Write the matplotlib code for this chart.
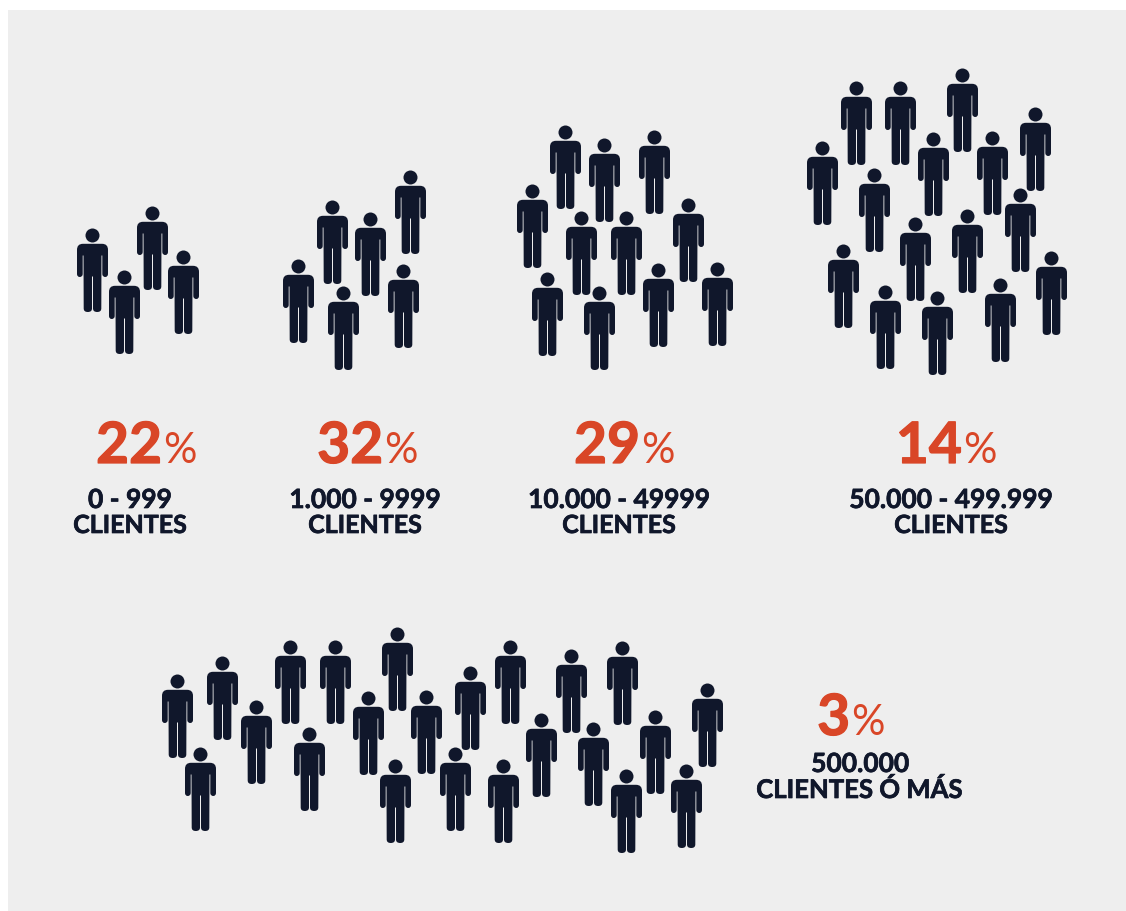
import matplotlib
matplotlib.use("Agg")
import matplotlib.pyplot as plt
import matplotlib.patheffects as pe
from matplotlib.path import Path
from matplotlib.patches import Rectangle

W, H = 1126, 911
BG = "#EEEEEE"; INK = "#10172B"; RED = "#D94627"
FONT = "Lato"

# head-centre positions of each person, per group
g1_x = [92, 152, 124, 183]
g1_y = [235, 213, 277, 257]
g2_x = [298, 332, 370, 410, 343, 403]
g2_y = [266, 207, 219, 177, 293, 271]
g3_x = [565, 604, 654, 532, 581, 626, 688, 547, 599, 658, 717]
g3_y = [132, 145, 137, 191, 218, 218, 205, 279, 293, 270, 269]
g4_x = [962, 856, 900, 1035, 822, 933, 992, 874, 1020, 967, 915, 843, 1051, 885, 1000, 937]
g4_y = [75, 88, 88, 114, 148, 139, 138, 175, 195, 216, 224, 251, 258, 292, 285, 298]
g5_x = [397, 290, 335, 222, 177, 510, 622, 571, 470, 368, 426, 256, 707, 541, 655, 593, 309, 200, 455, 395, 503, 686, 626]
g5_y = [634, 647, 647, 663, 681, 647, 648, 656, 673, 698, 697, 707, 690, 720, 717, 729, 734, 754, 754, 766, 766, 771, 776]
groups = [(g1_x, g1_y), (g2_x, g2_y), (g3_x, g3_y), (g4_x, g4_y), (g5_x, g5_y)]

percents = ["22", "32", "29", "14", "3"]
pct_split_x = [162, 383, 640, 962, 850]
pct_base_y = [463, 463, 463, 463, 735]
label_lines = [("0 - 999", "CLIENTES"), ("1.000 - 9999", "CLIENTES"), ("10.000 - 49999", "CLIENTES"),
               ("50.000 - 499.999", "CLIENTES"), ("500.000", "CLIENTES Ó MÁS")]
label_x = [130, 365, 619, 951, 860]
label_y = [[508, 533], [508, 533], [508, 533], [508, 533], [772, 798]]


def person_marker():
    M, L, Q = Path.MOVETO, Path.LINETO, Path.CURVE3
    right = [(L, 9.5, 8.3), (Q, 15.5, 8.3), (Q, 15.5, 14.3), (L, 15.5, 38.5), (Q, 15.5, 41.5), (Q, 12.75, 41.5),
             (Q, 9.8, 41.5), (Q, 9.8, 38.5), (L, 9.8, 20), (L, 9.0, 20), (L, 8.8, 73), (Q, 8.8, 76.5), (Q, 4.7, 76.5),
             (Q, 0.5, 76.5), (Q, 0.5, 73), (L, 0.5, 41)]
    verts = [(0, 8.3)]; codes = [M]
    for c, x, y in right:
        verts.append((x, y)); codes.append(c)
    left_pts = [(-x, y) for _, x, y in right][::-1]
    left_codes = [c for c, _, _ in right][::-1]
    verts.append((-0.5, 41)); codes.append(L)
    rev_codes = left_codes[:-1]
    for p, c in zip(left_pts[1:], rev_codes):
        verts.append(p); codes.append(c)
    verts.append((0, 8.3)); codes.append(L)
    verts.append((0, 8.3)); codes.append(Path.CLOSEPOLY)
    body = Path([(x, -y) for x, y in verts], codes)
    head = Path.circle((0, 0), 7.0)
    return Path.make_compound_path(head, body)


fig = plt.figure(figsize=(W / 100, H / 100), dpi=100, facecolor="white")
ax = fig.add_axes([0, 0, 1, 1])
ax.set_xlim(0, W); ax.set_ylim(H, 0); ax.axis("off")
ax.add_patch(Rectangle((8, 10), W - 8, H - 10, facecolor=BG, edgecolor="none", zorder=0))

marker = person_marker()
s = (2 * 76.5 * 0.72) ** 2
for xs, ys in groups:
    coll = ax.scatter(xs, ys, s=s, marker=marker, color=INK, linewidths=0, zorder=2)
    coll.set_snap(False)

heavy_red = [pe.withStroke(linewidth=0.9, foreground=RED)]
heavy_ink = [pe.withStroke(linewidth=0.5, foreground=INK)]
for num, x, y in zip(percents, pct_split_x, pct_base_y):
    ax.text(x, y, num, color=RED, fontsize=41, fontweight="bold", family=FONT, ha="right", va="baseline",
            path_effects=heavy_red)
    ax.text(x + 1, y, "%", color=RED, fontsize=30, fontweight="normal", family=FONT, ha="left", va="baseline")

for lines, x, ys in zip(label_lines, label_x, label_y):
    for t, y in zip(lines, ys):
        size = 19 if t[0].isdigit() else (18.5 if "Ó" in t else 18)
        ax.text(x, y, t, color=INK, fontsize=size, fontweight="bold", family=FONT, ha="center", va="baseline",
                path_effects=heavy_ink)

fig.savefig("out.png", dpi=100, facecolor="white")
